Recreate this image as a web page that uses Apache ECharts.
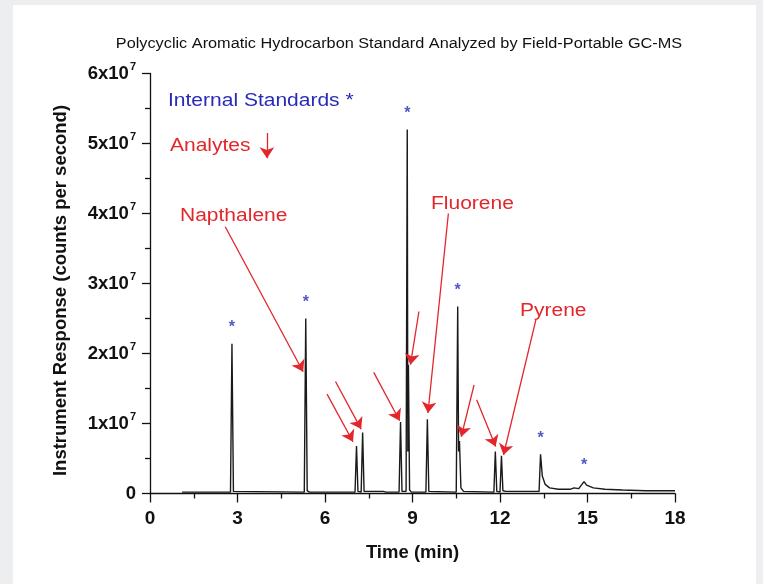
<!DOCTYPE html>
<html><head><meta charset="utf-8">
<script src="https://cdn.jsdelivr.net/npm/echarts@6/dist/echarts.min.js"></script>
<style>html,body{margin:0;padding:0;background:#eceef0}#c{width:763px;height:584px}</style>
</head><body><div id="c"></div>
<script>
// Chromatogram trace (time in min, response in counts/s)
const times = [1.10,2.76,2.81,2.86,2.92,5.29,5.34,5.39,5.46,7.03,7.08,7.13,7.24,7.29,7.34,7.40,8.00,8.10,8.54,8.59,8.64,8.78,8.82,8.84,8.86,8.90,8.96,9.46,9.51,9.56,9.62,10.50,10.55,10.58,10.61,10.66,10.75,11.79,11.84,11.89,12.00,12.05,12.10,12.20,13.34,13.39,13.45,13.55,13.70,14.00,14.40,14.54,14.70,14.88,14.97,15.20,15.60,16.20,17.00,18.00];
const response = [0.02e7,0.02e7,2.14e7,0.03e7,0.02e7,0.02e7,2.50e7,0.04e7,0.02e7,0.02e7,0.68e7,0.03e7,0.02e7,0.87e7,0.03e7,0.02e7,0.03e7,0.02e7,0.02e7,1.02e7,0.03e7,0.03e7,5.20e7,0.60e7,1.84e7,0.05e7,0.02e7,0.02e7,1.06e7,0.03e7,0.02e7,0.02e7,2.67e7,0.60e7,0.75e7,0.08e7,0.03e7,0.02e7,0.60e7,0.03e7,0.02e7,0.54e7,0.04e7,0.03e7,0.03e7,0.56e7,0.25e7,0.13e7,0.08e7,0.06e7,0.06e7,0.08e7,0.07e7,0.17e7,0.12e7,0.08e7,0.06e7,0.05e7,0.04e7,0.04e7];
// Internal standard peaks (marked with *)
const stdTimes = [2.81,5.34,8.82,10.55,13.39,14.88];
const stdResponse = [2.14e7,2.50e7,5.20e7,2.67e7,0.56e7,0.17e7];
// Annotation arrows: start (time, response) -> tip (time, response)
const arrowFromT = [2.58,6.07,6.36,7.67,9.22,10.23,11.11,11.20,13.23,4.01];
const arrowFromV = [3.81e7,1.42e7,1.60e7,1.73e7,2.60e7,4.00e7,1.55e7,1.34e7,2.48e7,5.15e7];
const arrowToT   = [5.25,6.96,7.24,8.56,8.93,9.53,10.67,11.85,12.12,4.01];
const arrowToV   = [1.74e7,0.74e7,0.92e7,1.04e7,1.84e7,1.15e7,0.81e7,0.67e7,0.55e7,4.79e7];
// Axis ticks
const xTicks = {min:0,max:18,interval:3};
const yTicks = {min:0,max:6e7,interval:1e7};
const titleText = 'Polycyclic Aromatic Hydrocarbon Standard Analyzed by Field-Portable GC-MS';
const xName = 'Time (min)';
const yName = 'Instrument Response (counts per second)';

const FONT = 'Liberation Sans, Arial, sans-serif';
const RED = '#e3262b', BLUE = '#2a2ab8';
const chart = echarts.init(document.getElementById('c'), null, {renderer:'canvas'});
const trace = times.map((t,i)=>[t,response[i]]);
const stars = stdTimes.map((t,i)=>[t,stdResponse[i]]);
const arrows = arrowFromT.map((t,i)=>[{coord:[t,arrowFromV[i]]},{coord:[arrowToT[i],arrowToV[i]]}]);

function annot(text,x,y,color,size,sx){
  return {type:'text',x:x,y:y,scaleX:sx,z:10,style:{text:text,fill:color,font:'normal '+size+'px '+FONT,textAlign:'left',textVerticalAlign:'middle'}};
}
chart.setOption({
  animation:false,
  backgroundColor:'#eceef0',
  grid:{left:150,top:73.5,width:525,height:420,containLabel:false},
  xAxis:{type:'value',min:xTicks.min,max:xTicks.max,interval:xTicks.interval,
    name:xName,nameLocation:'middle',nameGap:50,
    nameTextStyle:{fontFamily:FONT,fontWeight:'bold',fontSize:18.5,color:'#111'},
    axisLine:{show:true,onZero:false,lineStyle:{color:'#111',width:1.3}},
    axisTick:{show:true,length:9,lineStyle:{color:'#111',width:1.3}},
    minorTick:{show:true,splitNumber:2,length:5,lineStyle:{color:'#111',width:1.3}},
    splitLine:{show:false},
    axisLabel:{fontFamily:FONT,fontWeight:'bold',fontSize:19,color:'#111',margin:16}},
  yAxis:{type:'value',min:yTicks.min,max:yTicks.max,interval:yTicks.interval,
    name:yName,nameLocation:'middle',nameGap:80,
    nameTextStyle:{fontFamily:FONT,fontWeight:'bold',fontSize:18.5,color:'#111',padding:[0,14,0,0]},
    axisLine:{show:true,lineStyle:{color:'#111',width:1.3}},
    axisTick:{show:true,length:8,lineStyle:{color:'#111',width:1.3}},
    minorTick:{show:true,splitNumber:2,length:5,lineStyle:{color:'#111',width:1.3}},
    splitLine:{show:false},
    axisLabel:{margin:14,color:'#111',
      formatter:function(v){ if(v===0) return '{b|0}'; return '{b|'+Math.round(v/1e7)+'x10}{s|7}'; },
      rich:{b:{fontFamily:FONT,fontWeight:'bold',fontSize:18.5,color:'#111',lineHeight:24},
            s:{fontFamily:FONT,fontWeight:'bold',fontSize:11,color:'#111',verticalAlign:'top',lineHeight:12,padding:[0,0,0,1]}}}},
  graphic:[
    {type:'rect',shape:{x:13,y:5,width:743,height:584},style:{fill:'#ffffff'},z:-10,silent:true},
    {type:'text',x:399,y:44,scaleX:1.18,z:10,style:{text:titleText,fill:'#111',font:'normal 13.8px '+FONT,textAlign:'center',textVerticalAlign:'middle'}},
    annot('Internal Standards *',168,101,BLUE,17.5,1.2),
    annot('Analytes',170,146,RED,17.5,1.2),
    annot('Napthalene',180,216,RED,17.5,1.2),
    annot('Fluorene',431,204,RED,17.5,1.2),
    annot('Pyrene',520,311,RED,17.5,1.2)
  ],
  series:[
    {type:'line',data:trace,showSymbol:false,symbol:'none',silent:true,
     lineStyle:{color:'#1a1a1a',width:1.4},
     markLine:{silent:true,symbol:['none','arrow'],symbolSize:11,precision:6,
       label:{show:false},lineStyle:{color:RED,width:1.3,type:'solid'},
       emphasis:{disabled:true},animation:false,data:arrows}},
    {type:'scatter',data:stars,symbolSize:0,silent:true,
     label:{show:true,position:'inside',offset:[0,-16],formatter:'*',
       fontFamily:FONT,fontWeight:'bold',fontSize:16,color:BLUE}}
  ]
});
</script></body></html>
